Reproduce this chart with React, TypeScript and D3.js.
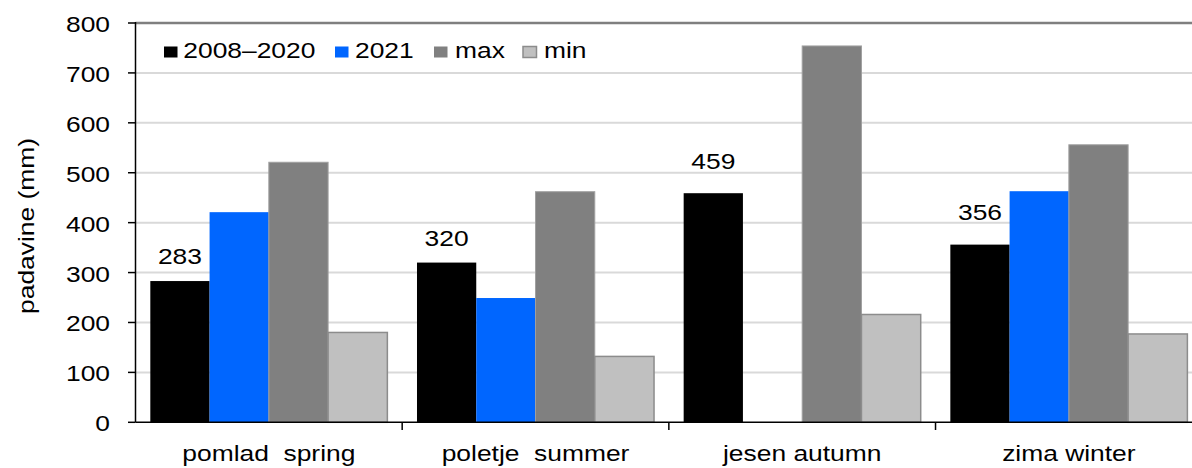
import React from "react";
import * as d3 from "d3";

const categories = ["pomlad  spring", "poletje  summer", "jesen autumn", "zima winter"];
const seriesNames = ["2008–2020", "2021", "max", "min"];
const avg20082020 = [283, 320, 459, 356];
const y2021: (number | null)[] = [421, 249, null, 463];
const maxValues = [521, 462, 754, 556];
const minValues = [180, 132, 216, 177];
const yTicks = [0, 100, 200, 300, 400, 500, 600, 700, 800];

const seriesData = [avg20082020, y2021, maxValues, minValues];
const fills = ["#000000", "#0066ff", "#808080", "#c0c0c0"];
const strokes = ["none", "none", "#a0a0a0", "#8c8c8c"];
const labelGap = [17, 17, 24.5, 24.5];

const W = 1192;
const H = 468;
const FONT = "'Liberation Sans', Arial, sans-serif";
const FS = 22;
const SX = 1.2;

function T({ x, y, anchor = "start", rotate = 0, children }: any) {
  return (
    <text
      transform={`translate(${x},${y}) rotate(${rotate}) scale(${SX},1)`}
      textAnchor={anchor}
      fontSize={FS}
      fill="#000"
      style={{ whiteSpace: "pre" }}
    >
      {children}
    </text>
  );
}

export default function App() {
  const x0 = d3.scaleBand<string>().domain(categories).range([135.5, 1202.2]).paddingInner(0).paddingOuter(0);
  const x1 = d3.scaleBand<string>().domain(seriesNames).range([0, x0.bandwidth()]).paddingInner(0).paddingOuter(0.25);
  const y = d3.scaleLinear().domain([0, 800]).range([422.3, 23]);

  const legendX = [164, 335, 434, 523];
  const legendTextX = [183.3, 355, 455, 544];

  return (
    <svg width={W} height={H} style={{ position: "absolute", left: 0, top: 0, fontFamily: FONT }}>
      <rect x={0} y={0} width={W} height={H} fill="#fff" />
      {yTicks.slice(1).map((t) => (
        <line key={t} x1={135.5} x2={W} y1={y(t)} y2={y(t)} stroke={t === 800 ? "#7f7f7f" : "#d9d9d9"} strokeWidth={t === 800 ? 2.5 : 2} />
      ))}
      {categories.map((c, ci) =>
        seriesData.map((s, si) => {
          const v = s[ci];
          if (v == null) return null;
          const bx = (x0(c) as number) + (x1(seriesNames[si]) as number);
          return (
            <rect
              key={c + si}
              x={bx}
              y={y(v)}
              width={x1.bandwidth()}
              height={y(0) - y(v)}
              fill={fills[si]}
              stroke={strokes[si]}
              strokeWidth={si === 3 ? 1.5 : 1}
            />
          );
        })
      )}
      {categories.map((c, ci) => {
        const bx = (x0(c) as number) + (x1(seriesNames[0]) as number) + x1.bandwidth() / 2;
        return (
          <T key={"l" + c} x={bx} y={y(avg20082020[ci]) - labelGap[ci]} anchor="middle">
            {avg20082020[ci]}
          </T>
        );
      })}
      <line x1={135.5} x2={135.5} y1={22} y2={422.3} stroke="#000" strokeWidth={1.5} />
      <line x1={135.5} x2={W} y1={422.3} y2={422.3} stroke="#000" strokeWidth={1.5} />
      {yTicks.map((t) => (
        <g key={"t" + t}>
          <line x1={128} x2={135.5} y1={y(t)} y2={y(t)} stroke="#000" strokeWidth={1.5} />
          <T x={110} y={y(t) + 9} anchor="end">
            {t}
          </T>
        </g>
      ))}
      {categories.map((c, i) => (
        <g key={"c" + c}>
          {i > 0 && <line x1={x0(c) as number} x2={x0(c) as number} y1={422.3} y2={430} stroke="#000" strokeWidth={1.5} />}
          <T x={(x0(c) as number) + x0.bandwidth() / 2} y={461} anchor="middle">
            {c}
          </T>
        </g>
      ))}
      <T x={34} y={226} anchor="middle" rotate={-90}>
        padavine (mm)
      </T>
      {seriesNames.map((n, i) => (
        <g key={"lg" + n}>
          <rect x={legendX[i]} y={46.5} width={13.5} height={11} fill={fills[i]} stroke={i === 3 ? "#8c8c8c" : "none"} strokeWidth={1.5} />
          <T x={legendTextX[i]} y={58.3}>
            {n}
          </T>
        </g>
      ))}
    </svg>
  );
}
